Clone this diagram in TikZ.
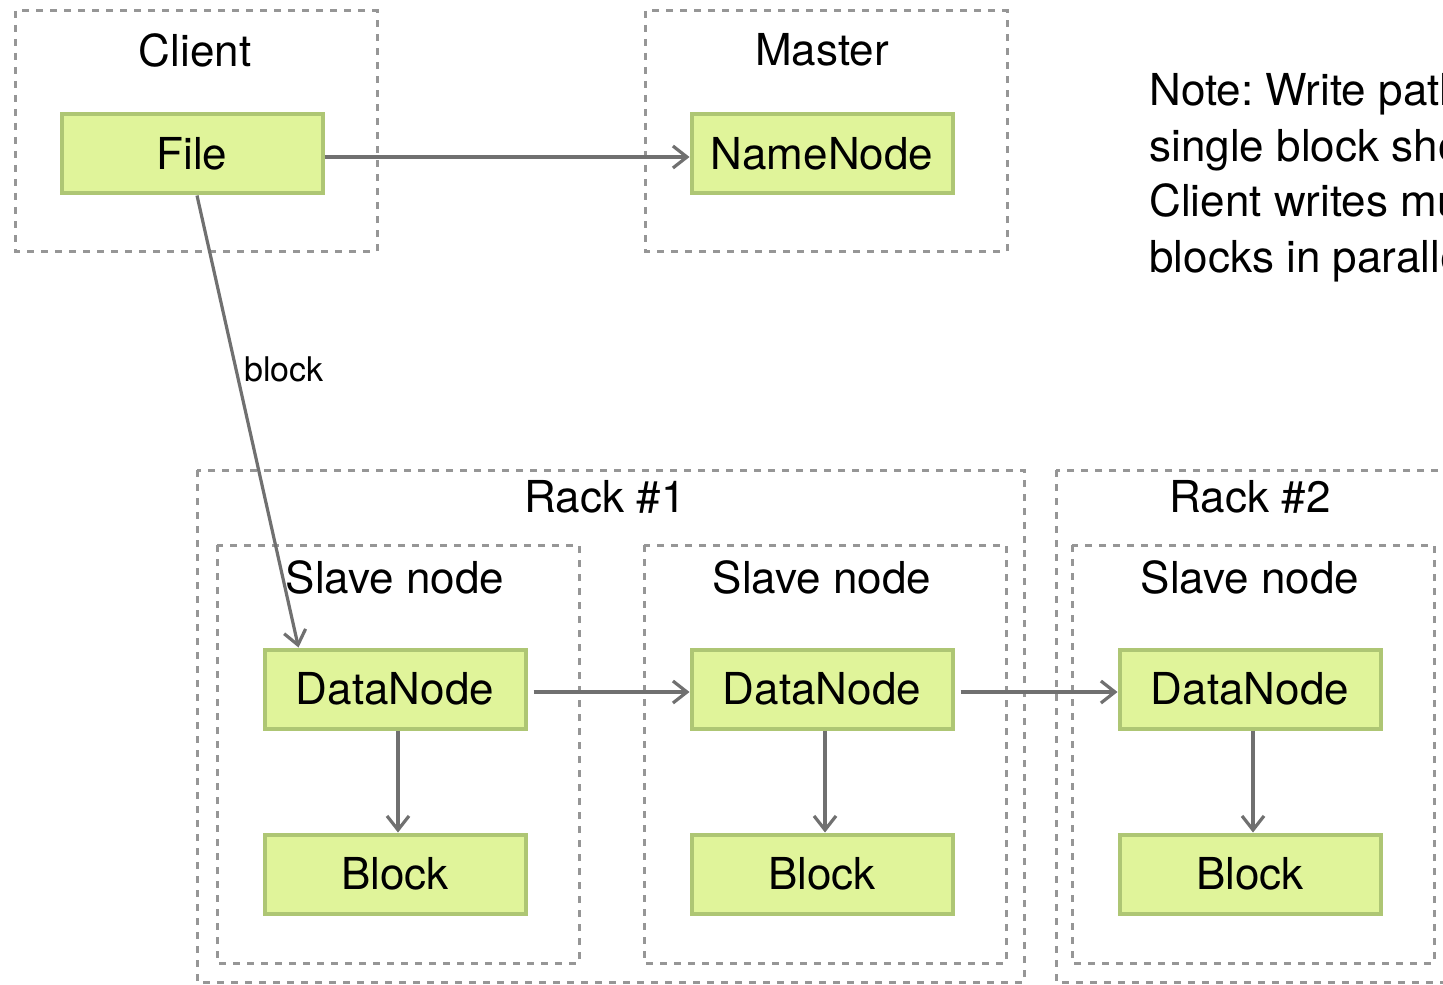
\documentclass[tikz,border=0pt]{standalone}
\usepackage{fontspec}
\setmainfont{TeX Gyre Heros}
\usetikzlibrary{calc,arrows.meta}

\definecolor{partfill}{RGB}{224,244,154}
\definecolor{partline}{RGB}{174,198,116}
\definecolor{boxline}{RGB}{150,150,150}
\definecolor{flowline}{RGB}{112,112,112}

\tikzset{
  group/.style={draw=boxline,line width=1.5pt,dash pattern=on 3.5pt off 3.5pt},
  title/.style={font=\fontsize{22}{26}\selectfont},
  part/.style={draw=partline,fill=partfill,line width=2pt,minimum width=130.5pt,
    minimum height=39.5pt,inner sep=0pt,font=\fontsize{22}{26}\selectfont},
  flow/.style={draw=flowline,line width=1.6pt,-{Straight Barb[length=7pt,width=11pt]}}
}

\begin{document}
\frenchspacing
\begin{tikzpicture}[x=0.5pt,y=-0.5pt]
  \useasboundingbox (0,0) rectangle (1443,984);

  % client and master
  \draw[group] (15,11) rectangle (377,251);
  \draw[group] (645,11) rectangle (1007,251);
  \node[title] (client) at (195,50) {Client};
  \node[title] (master) at (822,50) {Master};
  \node[part] (file) at (192,154) {File};
  \node[part] (namenode) at (822,154) {NameNode};
  \draw[flow] ($(file.east)+(0,3)$) -- ($(namenode.west)+(0,3)$);

  \node[anchor=north west,inner sep=0pt,align=left,
    font=\fontsize{22}{27.75}\selectfont] (note) at (1149,73)
    {Note: Write path for a\\single block shown.\\Client writes multiple\\blocks in parallel.};

  % racks
  \draw[group] (197,470) rectangle (1024,982);
  \draw[group] (1056,470) rectangle (1470,982);
  \node[title] (rack1) at (605,497) {Rack \#1};
  \node[title] (rack2) at (1250,497) {Rack \#2};

  \foreach \n/\x in {1/395,2/822,3/1250} {
    \draw[group] (\x-178,545) rectangle (\x+184,963);
    \node[title] (slave\n) at (\x,577) {Slave node};
    \node[part] (dn\n) at (\x,689) {DataNode};
    \node[part] (blk\n) at (\x,874) {Block};
    \draw[flow] ($(dn\n.south)+(3,0)$) -- ($(blk\n.north)+(3,0)$);
  }

  \draw[flow,shorten <=3pt] ($(dn1.east)+(0,3)$) -- ($(dn2.west)+(0,3)$);
  \draw[flow,shorten <=3pt] ($(dn2.east)+(0,3)$) -- ($(dn3.west)+(0,3)$);
  \draw[flow] ($(file.south)+(5,0)$) -- ($(dn1.north west)+(36,0)$)
    node[pos=0.384,right,font=\fontsize{17}{20}\selectfont] (blocklbl) {block};
\end{tikzpicture}
\end{document}
